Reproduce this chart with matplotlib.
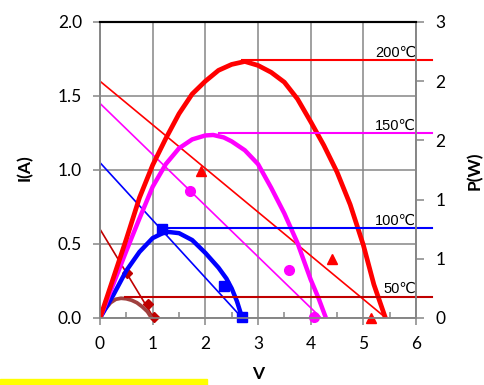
import matplotlib
matplotlib.use("Agg")
import matplotlib.pyplot as plt
from matplotlib.patches import Rectangle
from matplotlib.ticker import FormatStrFormatter, MultipleLocator

# measured I-V points (markers)
v_50 = [0.51, 0.92, 1.03]
i_50 = [0.306, 0.092, 0.01]
v_100 = [1.17, 2.35, 2.70]
i_100 = [0.60, 0.216, 0.01]
v_150 = [1.70, 3.59, 4.06]
i_150 = [0.86, 0.324, 0.01]
v_200 = [1.92, 4.41, 5.14]
i_200 = [0.99, 0.40, 0.0]

# linear I-V fits (Isc, Voc)
fit_v = {"50": [0, 1.02], "100": [0, 2.70], "150": [0, 4.20], "200": [0, 5.43]}
fit_i = {"50": [0.60, 0], "100": [1.05, 0], "150": [1.45, 0], "200": [1.60, 0]}

# power curves P(W)
pv_50 = [0, 0.1, 0.2, 0.3, 0.4, 0.5, 0.6, 0.7, 0.8, 0.9, 0.98]
pp_50 = [0, 0.09, 0.155, 0.19, 0.20, 0.195, 0.18, 0.155, 0.115, 0.065, 0]
pv_100 = [0, 0.25, 0.5, 0.75, 1.0, 1.25, 1.5, 1.75, 2.0, 2.25, 2.4, 2.5, 2.6, 2.7]
pp_100 = [0, 0.23, 0.48, 0.67, 0.81, 0.875, 0.86, 0.79, 0.66, 0.51, 0.40, 0.30, 0.17, 0]
pv_150 = [0, 0.25, 0.5, 0.75, 1.0, 1.25, 1.5, 1.75, 2.0, 2.15, 2.35, 2.5, 2.75,
          3.0, 3.25, 3.5, 3.75, 4.0, 4.15, 4.29]
pp_150 = [0, 0.34, 0.68, 1.01, 1.33, 1.56, 1.72, 1.81, 1.85, 1.855, 1.83, 1.79,
          1.70, 1.56, 1.32, 1.06, 0.76, 0.39, 0.20, 0]
pv_200 = [0, 0.25, 0.5, 0.75, 1.0, 1.25, 1.5, 1.75, 2.0, 2.25, 2.5, 2.75, 3.0,
          3.25, 3.5, 3.75, 4.0, 4.25, 4.5, 4.75, 5.0, 5.2, 5.42]
pp_200 = [0, 0.40, 0.80, 1.22, 1.55, 1.82, 2.07, 2.27, 2.40, 2.51, 2.57, 2.60,
          2.56, 2.49, 2.39, 2.22, 1.99, 1.75, 1.48, 1.15, 0.74, 0.34, 0]

# max power lines
pmax_label = ["50℃", "100℃", "150℃", "200℃"]
pmax_val = [0.216, 0.909, 1.872, 2.615]
pmax_start = [0.47, 1.31, 2.25, 2.70]
pmax_end = 6.3

c_50 = "#C00000"
c_50p = "#A0403F"
grid_c = "#868686"

fig = plt.figure(figsize=(4.85, 3.85), dpi=100)
ax = fig.add_axes([100 / 485, 1 - 318 / 385, 316 / 485, 296 / 385])
ax2 = ax.twinx()

tick_font = {"family": "Lato", "size": 12.5}

ax.set_xlim(0, 6)
ax.set_ylim(0, 2)
ax.xaxis.set_major_locator(MultipleLocator(1))
ax.xaxis.set_minor_locator(MultipleLocator(0.5))
ax.yaxis.set_major_locator(MultipleLocator(0.5))
ax.yaxis.set_major_formatter(FormatStrFormatter("%.1f"))
ax.grid(True, color=grid_c, lw=1.1)
ax.set_axisbelow(True)

# I-V fit lines and markers
ax.plot(fit_v["50"], fit_i["50"], color=c_50, lw=1.2)
ax.plot(fit_v["100"], fit_i["100"], color="blue", lw=1.2)
ax.plot(fit_v["150"], fit_i["150"], color="#FF00FF", lw=1.2)
ax.plot(fit_v["200"], fit_i["200"], color="red", lw=1.2)
ax.plot(v_50, i_50, "D", color=c_50, ms=5.5, clip_on=False, zorder=5)
ax.plot(v_100, i_100, "s", color="blue", ms=7, clip_on=False, zorder=5)
ax.plot(v_150, i_150, "o", color="#FF00FF", ms=7, clip_on=False, zorder=5)
ax.plot(v_200, i_200, "^", color="red", ms=7, clip_on=False, zorder=5)

# power curves on right axis
ax2.set_ylim(0, 3)
ax2.set_yticks([0, 0.6, 1.2, 1.8, 2.4, 3.0])
ax2.yaxis.set_major_formatter(FormatStrFormatter("%.0f"))
ax2.plot(pv_50, pp_50, color=c_50p, lw=2.7, solid_joinstyle="round")
ax2.plot(pv_100, pp_100, color="blue", lw=3.2, solid_joinstyle="round")
ax2.plot(pv_150, pp_150, color="#FF00FF", lw=3.2, solid_joinstyle="round")
ax2.plot(pv_200, pp_200, color="red", lw=3.4, solid_joinstyle="round")

pcols = [c_50, "blue", "#FF00FF", "red"]
for lab, p, x0, c in zip(pmax_label, pmax_val, pmax_start, pcols):
    ax2.plot([x0, pmax_end], [p, p], color=c, lw=1.5, clip_on=False)
    ax2.annotate(lab, (6.0, p), xytext=(0, 2.5), textcoords="offset points",
                 ha="right", va="baseline", fontsize=10.5,
                 family=["Liberation Sans", "DejaVu Sans"])

for a in (ax, ax2):
    for s in ("left", "right", "bottom"):
        a.spines[s].set_color(grid_c)
        a.spines[s].set_linewidth(1.2)
    a.spines["top"].set_color("black")
    a.spines["top"].set_linewidth(1.5)

ax.tick_params(axis="y", which="major", direction="out", length=5, width=1.1,
               color=grid_c, pad=8)
ax.tick_params(axis="x", which="major", direction="out", length=5, width=1.1,
               color=grid_c, pad=8)
ax.tick_params(axis="x", which="minor", direction="in", length=4, width=1.1,
               color=grid_c)
ax2.tick_params(axis="y", direction="out", length=6, width=1.1, color=grid_c, pad=8)
for lab in ax.get_xticklabels() + ax.get_yticklabels() + ax2.get_yticklabels():
    lab.set_fontfamily(tick_font["family"])
    lab.set_fontsize(tick_font["size"])

lab_font = {"family": "Lato", "size": 12.5, "weight": "bold"}
fig.text(25 / 485, 1 - 168 / 385, "I(A)", rotation=90, ha="center", va="center", **lab_font)
fig.text(475 / 485, 1 - 171 / 385, "P(W)", rotation=90, ha="center", va="center", **lab_font)
fig.text(258 / 485, 1 - 374 / 385, "V", ha="center", va="center", **lab_font)

fig.patches.append(Rectangle((0, 0), 207 / 485, 6 / 385, transform=fig.transFigure,
                             color="#FFFF00", zorder=0))

fig.savefig("out.png", dpi=100)
